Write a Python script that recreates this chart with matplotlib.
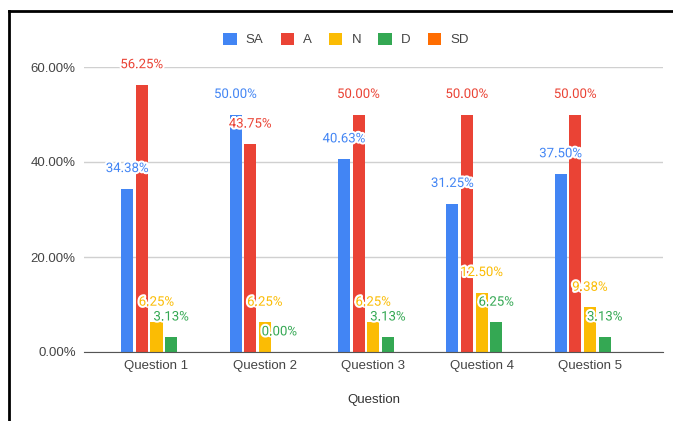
import matplotlib
matplotlib.use("Agg")
import matplotlib.pyplot as plt
import matplotlib.patheffects as pe
from matplotlib.lines import Line2D
from matplotlib.patches import Patch
from matplotlib.ticker import FuncFormatter
import numpy as np

# data (percent of responses)
questions = ["Question 1", "Question 2", "Question 3", "Question 4", "Question 5"]
series = ["SA", "A", "N", "D", "SD"]
sa = [34.38, 50.00, 40.63, 31.25, 37.50]
a = [56.25, 43.75, 50.00, 50.00, 50.00]
n = [6.25, 6.25, 6.25, 12.50, 9.38]
d = [3.13, 0.00, 3.13, 6.25, 3.13]
sd = [np.nan, np.nan, np.nan, np.nan, np.nan]  # no SD answers
yticks = [0, 20, 40, 60]

COLORS = ["#4285F4", "#EA4335", "#FBBC04", "#34A853", "#FF6D01"]
AXFONT = "Liberation Sans"
LBLFONT = "Roboto"
FS = 9.5

fig = plt.figure(figsize=(6.73, 4.21), dpi=100)
ax = fig.add_axes([84/673, 1-352/421, (663-84)/673, (352-67)/421])

x = np.arange(len(questions))
pitch = 0.135; width = 0.111
for i, (vals, col) in enumerate(zip([sa, a, n, d, sd], COLORS)):
    xs = x + (i - 2) * pitch
    ax.bar(xs, vals, width, color=col, zorder=3)
    for xi, v in zip(xs, vals):
        if np.isnan(v):
            continue
        ax.annotate(f"{v:.2f}%", (xi, v), xytext=(0, 14.5), textcoords="offset points",
                    ha="center", va="center", color=col, fontsize=FS, family=LBLFONT,
                    zorder=5, annotation_clip=False,
                    path_effects=[pe.withStroke(linewidth=3, foreground="white")])

ax.set_xlim(-0.669, 4.673)
ax.set_ylim(0, 60)
ax.set_yticks(yticks)
ax.yaxis.set_major_formatter(FuncFormatter(lambda v, p: f"{v:.2f}%"))
ax.set_xticks(x)
ax.set_xticklabels(questions)
ax.grid(axis="y", color="#d0d0d0", linewidth=1, zorder=0)
for s in ["top", "right", "left"]:
    ax.spines[s].set_visible(False)
ax.spines["bottom"].set_color("#555555")
ax.spines["bottom"].set_zorder(4)
ax.tick_params(length=0, colors="#444444", labelsize=FS)
ax.tick_params(axis="y", pad=6)
ax.tick_params(axis="x", pad=6)
for t in ax.get_xticklabels() + ax.get_yticklabels():
    t.set_family(AXFONT)

ax.set_xlabel("Question", fontsize=FS, family=AXFONT, color="#333333")
ax.xaxis.set_label_coords(0.5, -48/285)
ax.xaxis.label.set_va("center")

handles = [Patch(facecolor=c, edgecolor="none") for c in COLORS]
fig.legend(handles, series, loc="center", bbox_to_anchor=(346/673, 1-39.5/421),
           ncol=5, frameon=False, handlelength=1.0, handleheight=1.0,
           handletextpad=0.7, columnspacing=1.3,
           prop={"family": AXFONT, "size": FS}, labelcolor="#444444")

# black frame lines at top and left
fig.add_artist(Line2D([9/673, 9/673], [0, 1-11/421], color="black", lw=2, transform=fig.transFigure))
fig.add_artist(Line2D([9/673, 1], [1-11/421, 1-11/421], color="black", lw=2, transform=fig.transFigure))

fig.savefig("out.png", dpi=100)
